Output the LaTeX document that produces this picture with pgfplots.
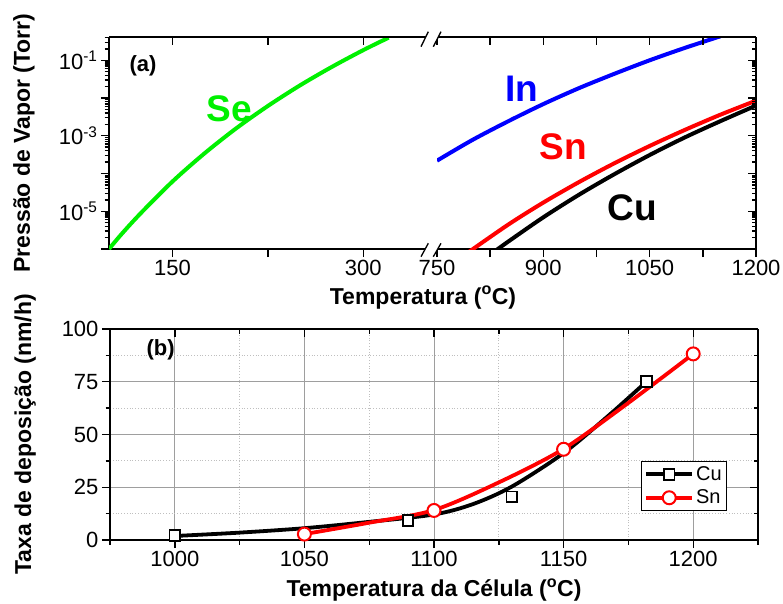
\documentclass[border=0pt]{standalone}
\usepackage{fontspec}
\setmainfont{Liberation Sans}
\usepackage{pgfplots}
\pgfplotsset{compat=1.18}
\definecolor{seg}{RGB}{0,240,0}
\definecolor{inb}{RGB}{0,0,255}
\definecolor{snr}{RGB}{255,0,0}
\newcommand{\tkfont}{\fontsize{22}{24}\selectfont}
\newcommand{\lbfont}{\fontsize{23}{25}\selectfont\bfseries}
\newcommand{\elfont}{\fontsize{37}{40}\selectfont\bfseries}
\newcommand{\tsup}[1]{\textsuperscript{#1}}
\pgfplotsset{
  base/.style={scale only axis, anchor=south west,
    axis line style={line width=1.6pt,-},
    tick style={line width=1.4pt,black},
    major tick length=8pt, minor tick length=4.5pt,
    tick label style={font=\tkfont},
    label style={font=\lbfont},
  },
  logminor/.style={
    ytick={1e-6,1e-5,1e-4,1e-3,1e-2,1e-1},
    minor ytick={2e-6,3e-6,4e-6,5e-6,6e-6,7e-6,8e-6,9e-6,
      2e-5,3e-5,4e-5,5e-5,6e-5,7e-5,8e-5,9e-5,
      2e-4,3e-4,4e-4,5e-4,6e-4,7e-4,8e-4,9e-4,
      2e-3,3e-3,4e-3,5e-3,6e-3,7e-3,8e-3,9e-3,
      2e-2,3e-2,4e-2,5e-2,6e-2,7e-2,8e-2,9e-2,
      0.2,0.3,0.4}},
}
\begin{document}
\begin{tikzpicture}[x=1pt,y=1pt]
\useasboundingbox (0,0) rectangle (783,603);

% ---------- (a) left segment ----------
\begin{axis}[base, ymode=log, ymin=1e-6, ymax=0.414, logminor,
  /pgf/number format/assume math mode=true, /pgf/number format/1000 sep={},
  at={(109pt,354pt)}, width=328pt, height=212pt,
  xmin=100, xmax=358,
  axis x line*=bottom, axis y line*=left, tick align=outside,
  xtick={150,225,300}, xticklabels={150,,300},
  yticklabels={,10\tsup{-5},,10\tsup{-3},,10\tsup{-1}},
  ylabel={Pressão de Vapor (Torr)},
  ylabel style={at={(axis description cs:-0.259,0.5)}, anchor=center},
]
\addplot[seg, line width=4pt, smooth] coordinates {
 (100,1.0e-6) (110,2.51e-6) (125,8.9e-6) (150,6.17e-5) (175,3.39e-4)
 (200,1.57e-3) (225,6.17e-3) (250,0.0214) (275,0.066) (300,0.186) (320,0.398)};
\end{axis}
\begin{axis}[base, ymin=0, ymax=1,
  at={(109pt,354pt)}, width=328pt, height=212pt,
  xmin=100, xmax=358,
  axis x line*=top, axis y line=none, tick align=inside,
  xtick={150,225,300}, xticklabels={}, ytick=\empty]
\end{axis}

% ---------- (a) right segment ----------
\begin{axis}[base, ymode=log, ymin=1e-6, ymax=0.414,
  /pgf/number format/assume math mode=true, /pgf/number format/1000 sep={},
  at={(437pt,354pt)}, width=319pt, height=212pt,
  xmin=750, xmax=1200,
  axis x line*=bottom, axis y line=none, tick align=outside,
  xtick={750,825,900,975,1050,1125,1200}, xticklabels={750,,900,,1050,,1200},
  ytick=\empty]
\addplot[inb, line width=4pt, smooth] coordinates {
 (750,2.19e-4) (800,7.76e-4) (850,2.40e-3) (900,6.92e-3) (950,0.0182)
 (1000,0.0437) (1050,0.1) (1100,0.214) (1150,0.434)};
\addplot[black, line width=4pt, smooth] coordinates {
 (830,8.3e-7) (850,1.55e-6) (900,6.92e-6) (950,2.72e-5) (1000,9.55e-5)
 (1050,3.09e-4) (1100,9.12e-4) (1150,2.45e-3) (1200,6.31e-3)};
\addplot[snr, line width=4pt, smooth] coordinates {
 (790,7.2e-7) (850,4.37e-6) (900,1.70e-5) (950,5.89e-5) (1000,1.86e-4)
 (1050,5.37e-4) (1100,1.44e-3) (1150,3.63e-3) (1200,8.51e-3)};
\end{axis}
\begin{axis}[base, ymode=log, ymin=1e-6, ymax=0.414, logminor,
  at={(437pt,354pt)}, width=319pt, height=212pt,
  xmin=750, xmax=1200,
  axis x line*=top, axis y line*=right, tick align=inside,
  xtick={750,825,900,975,1050,1125,1200}, xticklabels={}, yticklabels={}]
\end{axis}

% axis break marks
\fill[white] (421,556.3)--(428.3,571.3)--(441,571.3)--(433.3,556.3)--cycle;
\draw[line width=1.3pt] (421,556.3)--(428.3,571.3) (433.3,556.3)--(441,571.3);
\fill[white] (421,346.3)--(428.3,359.7)--(441,359.7)--(433.3,346.3)--cycle;
\draw[line width=1.3pt] (421,346.3)--(428.3,359.7) (433.3,346.3)--(441,359.7);

\node[font=\lbfont, anchor=base] at (423,299) {Temperatura (\tsup{o}C)};
\node[font=\fontsize{22}{24}\selectfont\bfseries, inner sep=0pt] at (143,537) {(a)};
\node[font=\elfont, text=seg, inner sep=0pt] at (229,494) {Se};
\node[font=\elfont, text=inb, inner sep=0pt] at (522,514) {In};
\node[font=\elfont, text=snr, inner sep=0pt] at (563,456) {Sn};
\node[font=\elfont, text=black, inner sep=0pt] at (632,395) {Cu};

% ---------- (b) ----------
\begin{axis}[base, at={(110pt,63pt)}, width=648pt, height=211pt,
  /pgf/number format/assume math mode=true, /pgf/number format/1000 sep={},
  xmin=975, xmax=1225, ymin=0, ymax=100,
  axis x line*=bottom, axis y line*=left, tick align=outside,
  xtick={1000,1050,1100,1150,1200}, ytick={0,25,50,75,100},
  minor xtick={975,1025,1075,1125,1175,1225}, minor ytick={12.5,37.5,62.5,87.5},
  grid=both,
  major grid style={line width=0.9pt, black!38},
  minor grid style={line width=0.8pt, black!25, dotted},
  xlabel={Temperatura da Célula (\tsup{o}C)},
  xlabel style={at={(axis description cs:0.5,-0.270)}, anchor=base},
  ylabel={Taxa de deposição (nm/h)},
  ylabel style={at={(axis description cs:-0.131,0.5)}, anchor=center},
  legend style={at={(axis description cs:0.819,0.137)}, anchor=south west,
    draw=black, line width=1.2pt, font=\fontsize{20}{22}\selectfont,
    cells={anchor=west}, inner sep=3pt, row sep=4pt},
  legend image code/.code={\draw[mark repeat=2,mark phase=2,#1] plot coordinates {(0pt,0pt)(23pt,0pt)(46pt,0pt)};},
]
\addplot[black, line width=3.8pt, smooth, forget plot] coordinates {
 (1000,1.9) (1025,3.5) (1050,5.6) (1075,8.6) (1100,12.1) (1115,17)
 (1130,25.3) (1150,41.2) (1167,58.6) (1182,75.1)};
\addplot[snr, line width=3.8pt, smooth, forget plot] coordinates {
 (1050,2.8) (1075,8.2) (1100,14.2) (1125,27.3) (1150,43.2) (1175,65) (1200,88.2)};
\addplot[black, only marks, mark=square*, mark size=5.3pt,
  mark options={fill=white, line width=1.8pt}, forget plot] coordinates {
 (1000,2.2) (1090,9.2) (1130,20.5) (1182,75.2)};
\addplot[snr, only marks, mark=*, mark size=6.5pt,
  mark options={fill=white, line width=2pt}, forget plot] coordinates {
 (1050,2.8) (1100,14) (1150,43) (1200,88.2)};
\addlegendimage{black, line width=3.8pt, mark=square*, mark size=5.3pt, mark options={fill=white, line width=1.8pt}}
\addlegendentry{Cu}
\addlegendimage{snr, line width=3.8pt, mark=*, mark size=6.5pt, mark options={fill=white, line width=2pt}}
\addlegendentry{Sn}
\node[font=\fontsize{22}{24}\selectfont\bfseries, inner sep=0pt] at (axis cs:994.5,90) {(b)};
\end{axis}
\begin{axis}[base, at={(110pt,63pt)}, width=648pt, height=211pt,
  xmin=975, xmax=1225, ymin=0, ymax=100,
  axis x line*=top, axis y line*=right, tick align=inside,
  xtick={1000,1050,1100,1150,1200}, ytick={0,25,50,75,100},
  minor xtick={975,1025,1075,1125,1175,1225}, minor ytick={12.5,37.5,62.5,87.5},
  xticklabels={}, yticklabels={}]
\end{axis}
\end{tikzpicture}
\end{document}
